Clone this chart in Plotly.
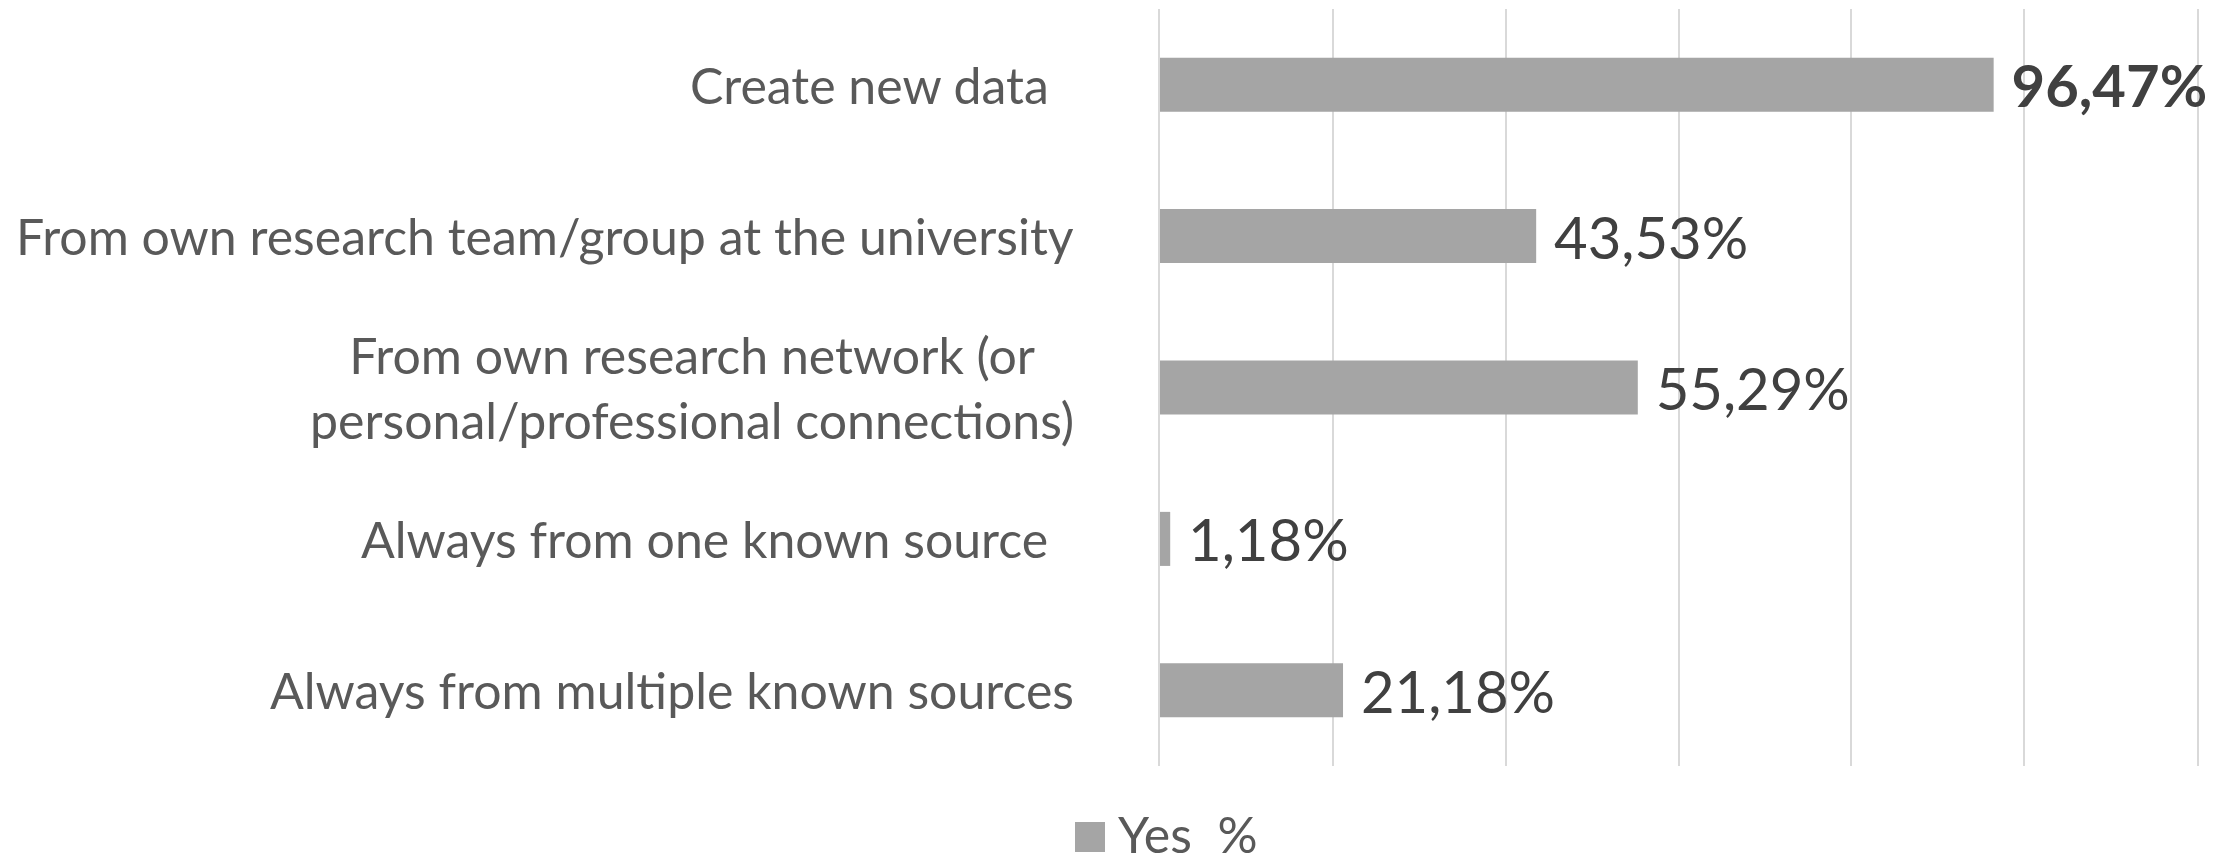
import plotly.graph_objects as go

# categories top -> bottom as in the reference
categories = [
    "Create new data ",
    "From own research team/group at the university",
    "From own research network (or<br>personal/professional connections)",
    "Always from one known source ",
    "Always from multiple known sources",
]
yes_pct = [96.47, 43.53, 55.29, 1.18, 21.18]
series_name = "Yes  %"

bar_color = "#a5a5a5"
label_color = "#595959"
value_color = "#404040"
grid_color = "#d9d9d9"
font_family = "Lato, Open Sans, sans-serif"

W, H = 2229, 856
ML, MR, MT, MB = 1160, 32, 9, 90
plot_w = W - ML - MR
plot_h = H - MT - MB

cat_ids = list(range(len(categories)))
value_text = []
for i, v in enumerate(yes_pct):
    s = f"{v:.2f}".replace(".", ",") + "%"
    if i == 0:
        s = "<b>" + s + "</b>"
    value_text.append("\u00a0" + s)

fig = go.Figure()
fig.add_trace(go.Bar(
    x=yes_pct,
    y=cat_ids,
    orientation="h",
    name=series_name,
    marker=dict(color=bar_color, line=dict(width=0)),
    text=value_text,
    textposition="outside",
    constraintext="none",
    textfont=dict(family=font_family, size=58, color=value_color),
    cliponaxis=False,
    hoverinfo="x+y",
    showlegend=False,
))

# category labels as annotations so multi-line labels stay centred
for i, c in enumerate(categories):
    fig.add_annotation(
        x=0, xref="paper", y=i, yref="y",
        text=c.rstrip() + ("\u00a0\u00a0" if c.endswith(" ") else ""),
        showarrow=False, xanchor="right", yanchor="middle",
        xshift=-84, align="center",
        font=dict(family=font_family, size=50, color=label_color),
    )

# legend drawn by hand (plotly caps legend swatch size)
def px_x(px):
    return (px - ML) / plot_w

def px_y(py):
    return (H - MB - py) / plot_h

fig.add_shape(
    type="rect", xref="paper", yref="paper",
    x0=px_x(1075), x1=px_x(1105), y0=px_y(852), y1=px_y(822),
    fillcolor=bar_color, line=dict(width=0),
)
fig.add_annotation(
    x=px_x(1116), xref="paper", y=px_y(834), yref="paper",
    text=series_name.replace("  ", "\u00a0\u00a0"),
    showarrow=False, xanchor="left", yanchor="middle",
    font=dict(family=font_family, size=50, color=label_color),
)

fig.update_layout(
    width=W, height=H,
    paper_bgcolor="white", plot_bgcolor="white",
    margin=dict(l=ML, r=MR, t=MT, b=MB, autoexpand=False),
    bargap=0.643,
    showlegend=False,
    font=dict(family=font_family),
)
fig.update_xaxes(
    range=[0, 120], dtick=20, showgrid=True, gridcolor=grid_color, gridwidth=2,
    showticklabels=False, zeroline=False, showline=False, ticks="",
    layer="below traces",
)
fig.update_yaxes(
    autorange="reversed", showticklabels=False, showgrid=False,
    zeroline=False, showline=True, mirror=True, linecolor=grid_color, linewidth=2,
    ticks="", layer="below traces",
)

# drop the default page margin so the figure fills the window exactly
fig.write_html(
    "out.html",
    config={"displayModeBar": False},
    post_script="document.body.style.margin='0';document.body.style.overflow='hidden';",
)
